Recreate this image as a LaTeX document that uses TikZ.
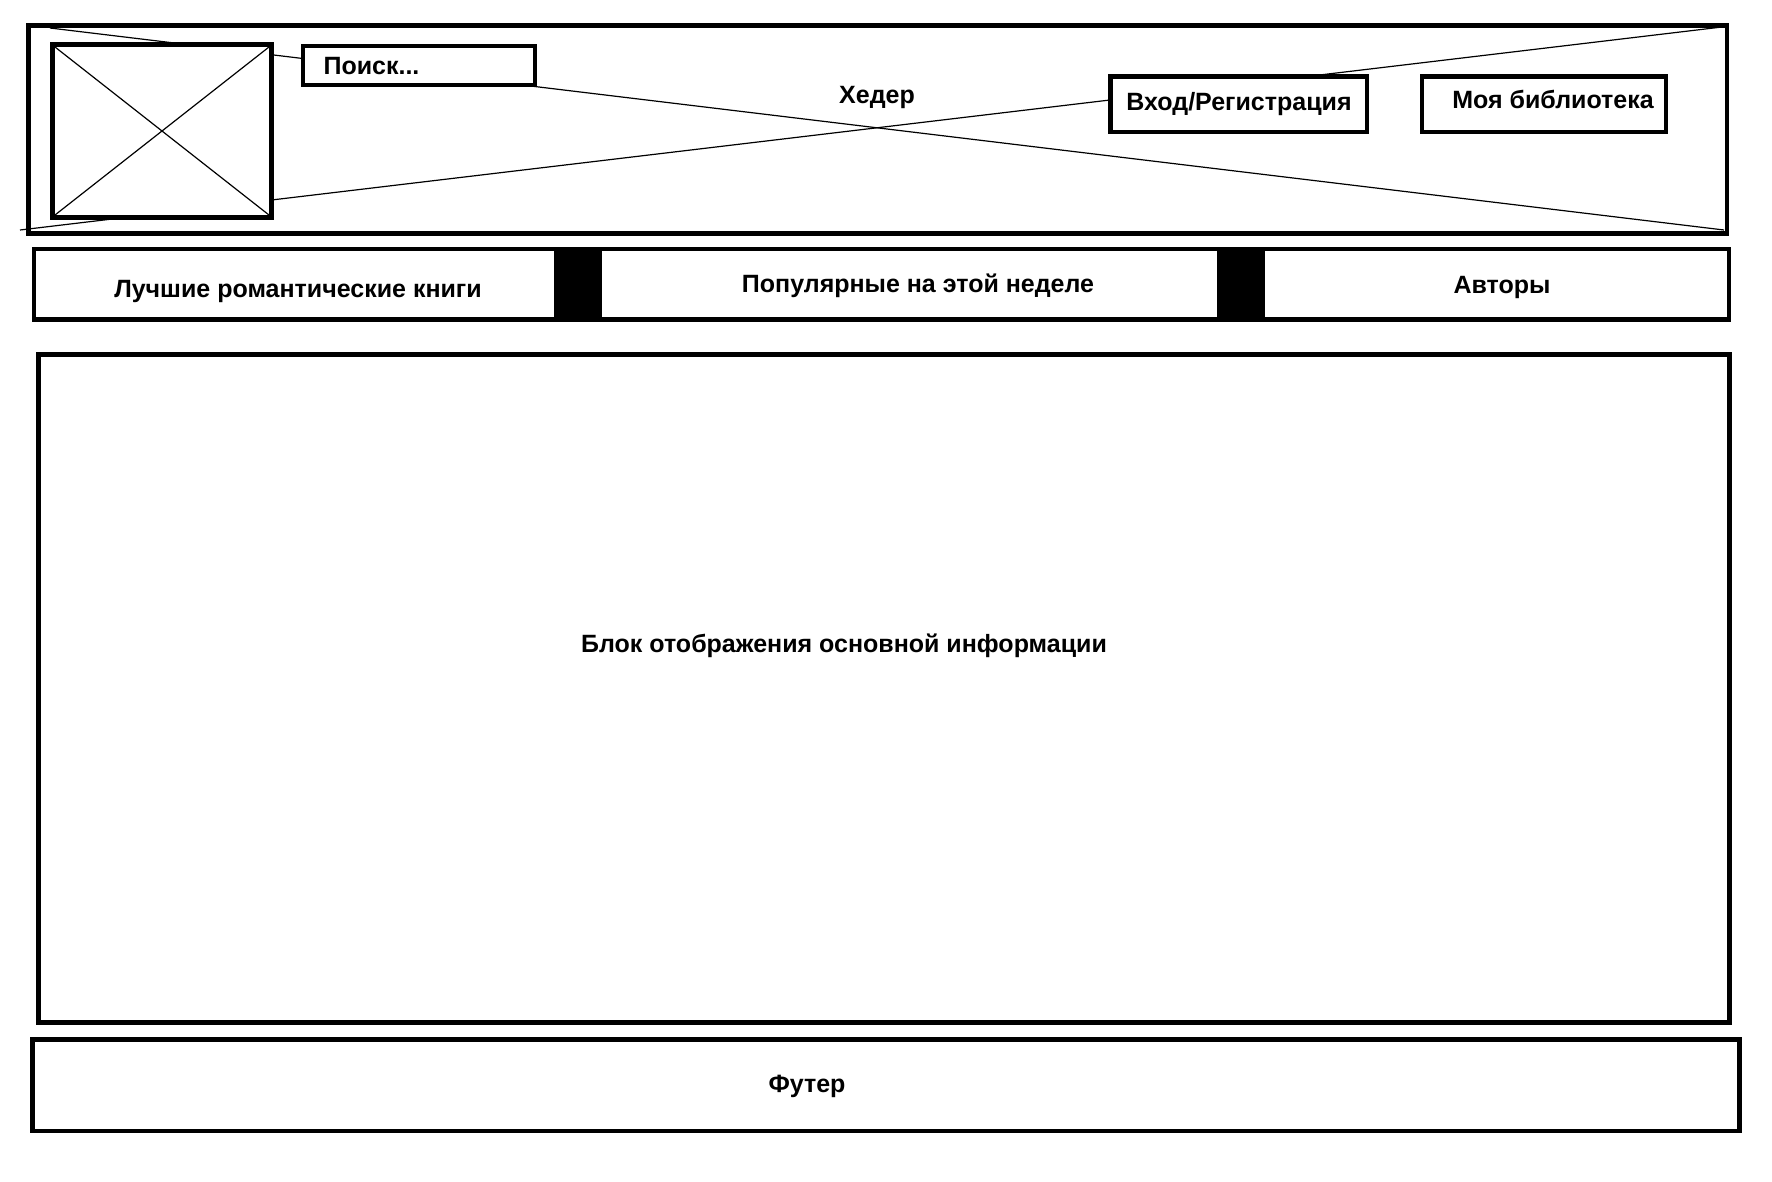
\documentclass[tikz,border=0pt]{standalone}
\usepackage{fontspec}
\setmainfont{Liberation Sans}
\newlength{\px}
\setlength{\px}{1pt}

\begin{document}
\begin{tikzpicture}[every node/.style={font=\fontsize{25}{30}\selectfont\bfseries},
  wide/.style={line width=4.5\px},
  hair/.style={line width=1.2\px}]
\pgftransformxscale{1.000000}
\pgftransformyscale{-1.000000}
\useasboundingbox (0\px,0\px) rectangle (1772\px,1181\px);

\draw[wide] (28.5\px,25.5\px) rectangle (1727\px,233.5\px);
\draw[hair] (50\px,28\px)--(1724\px,230\px);
\draw[hair] (20\px,230\px)--(1722\px,27\px);
\node (heder) at (877\px,97.5\px){Хедер};

\draw[wide,fill=white] (52.5\px,44.5\px) rectangle (271.5\px,217.5\px);
\draw[hair] (55\px,47\px)--(269\px,215\px);
\draw[hair] (55\px,215\px)--(269\px,47\px);

\draw[wide,fill=white] (303\px,46\px) rectangle (535\px,85\px);
\node[anchor=west] (search) at (320\px,66\px){Поиск...};
\draw[wide,fill=white] (1110.5\px,76.3\px) rectangle (1367\px,132\px);
\node (login) at (1239\px,104\px){Вход/Регистрация};
\draw[wide,fill=white] (1422\px,76.3\px) rectangle (1666\px,132\px);
\node (library) at (1553\px,99\px){Моя библиотека};

\draw[wide] (34\px,249\px) rectangle (1729\px,319.5\px);
\fill (554\px,249\px) rectangle (602\px,319.5\px);
\fill (1217\px,249\px) rectangle (1265\px,319.5\px);
\node (best) at (298\px,291\px){Лучшие романтические книги};
\node (popular) at (918\px,286\px){Популярные на этой неделе};
\node (authors) at (1502\px,287\px){Авторы};

\draw[wide] (38.3\px,354.3\px) rectangle (1729.3\px,1022.5\px);
\node (mainblock) at (844\px,646\px){Блок отображения основной информации};

\draw[wide] (32.3\px,1039.5\px) rectangle (1739.3\px,1131\px);
\node (footer) at (807\px,1086\px){Футер};

\end{tikzpicture}
\end{document}
